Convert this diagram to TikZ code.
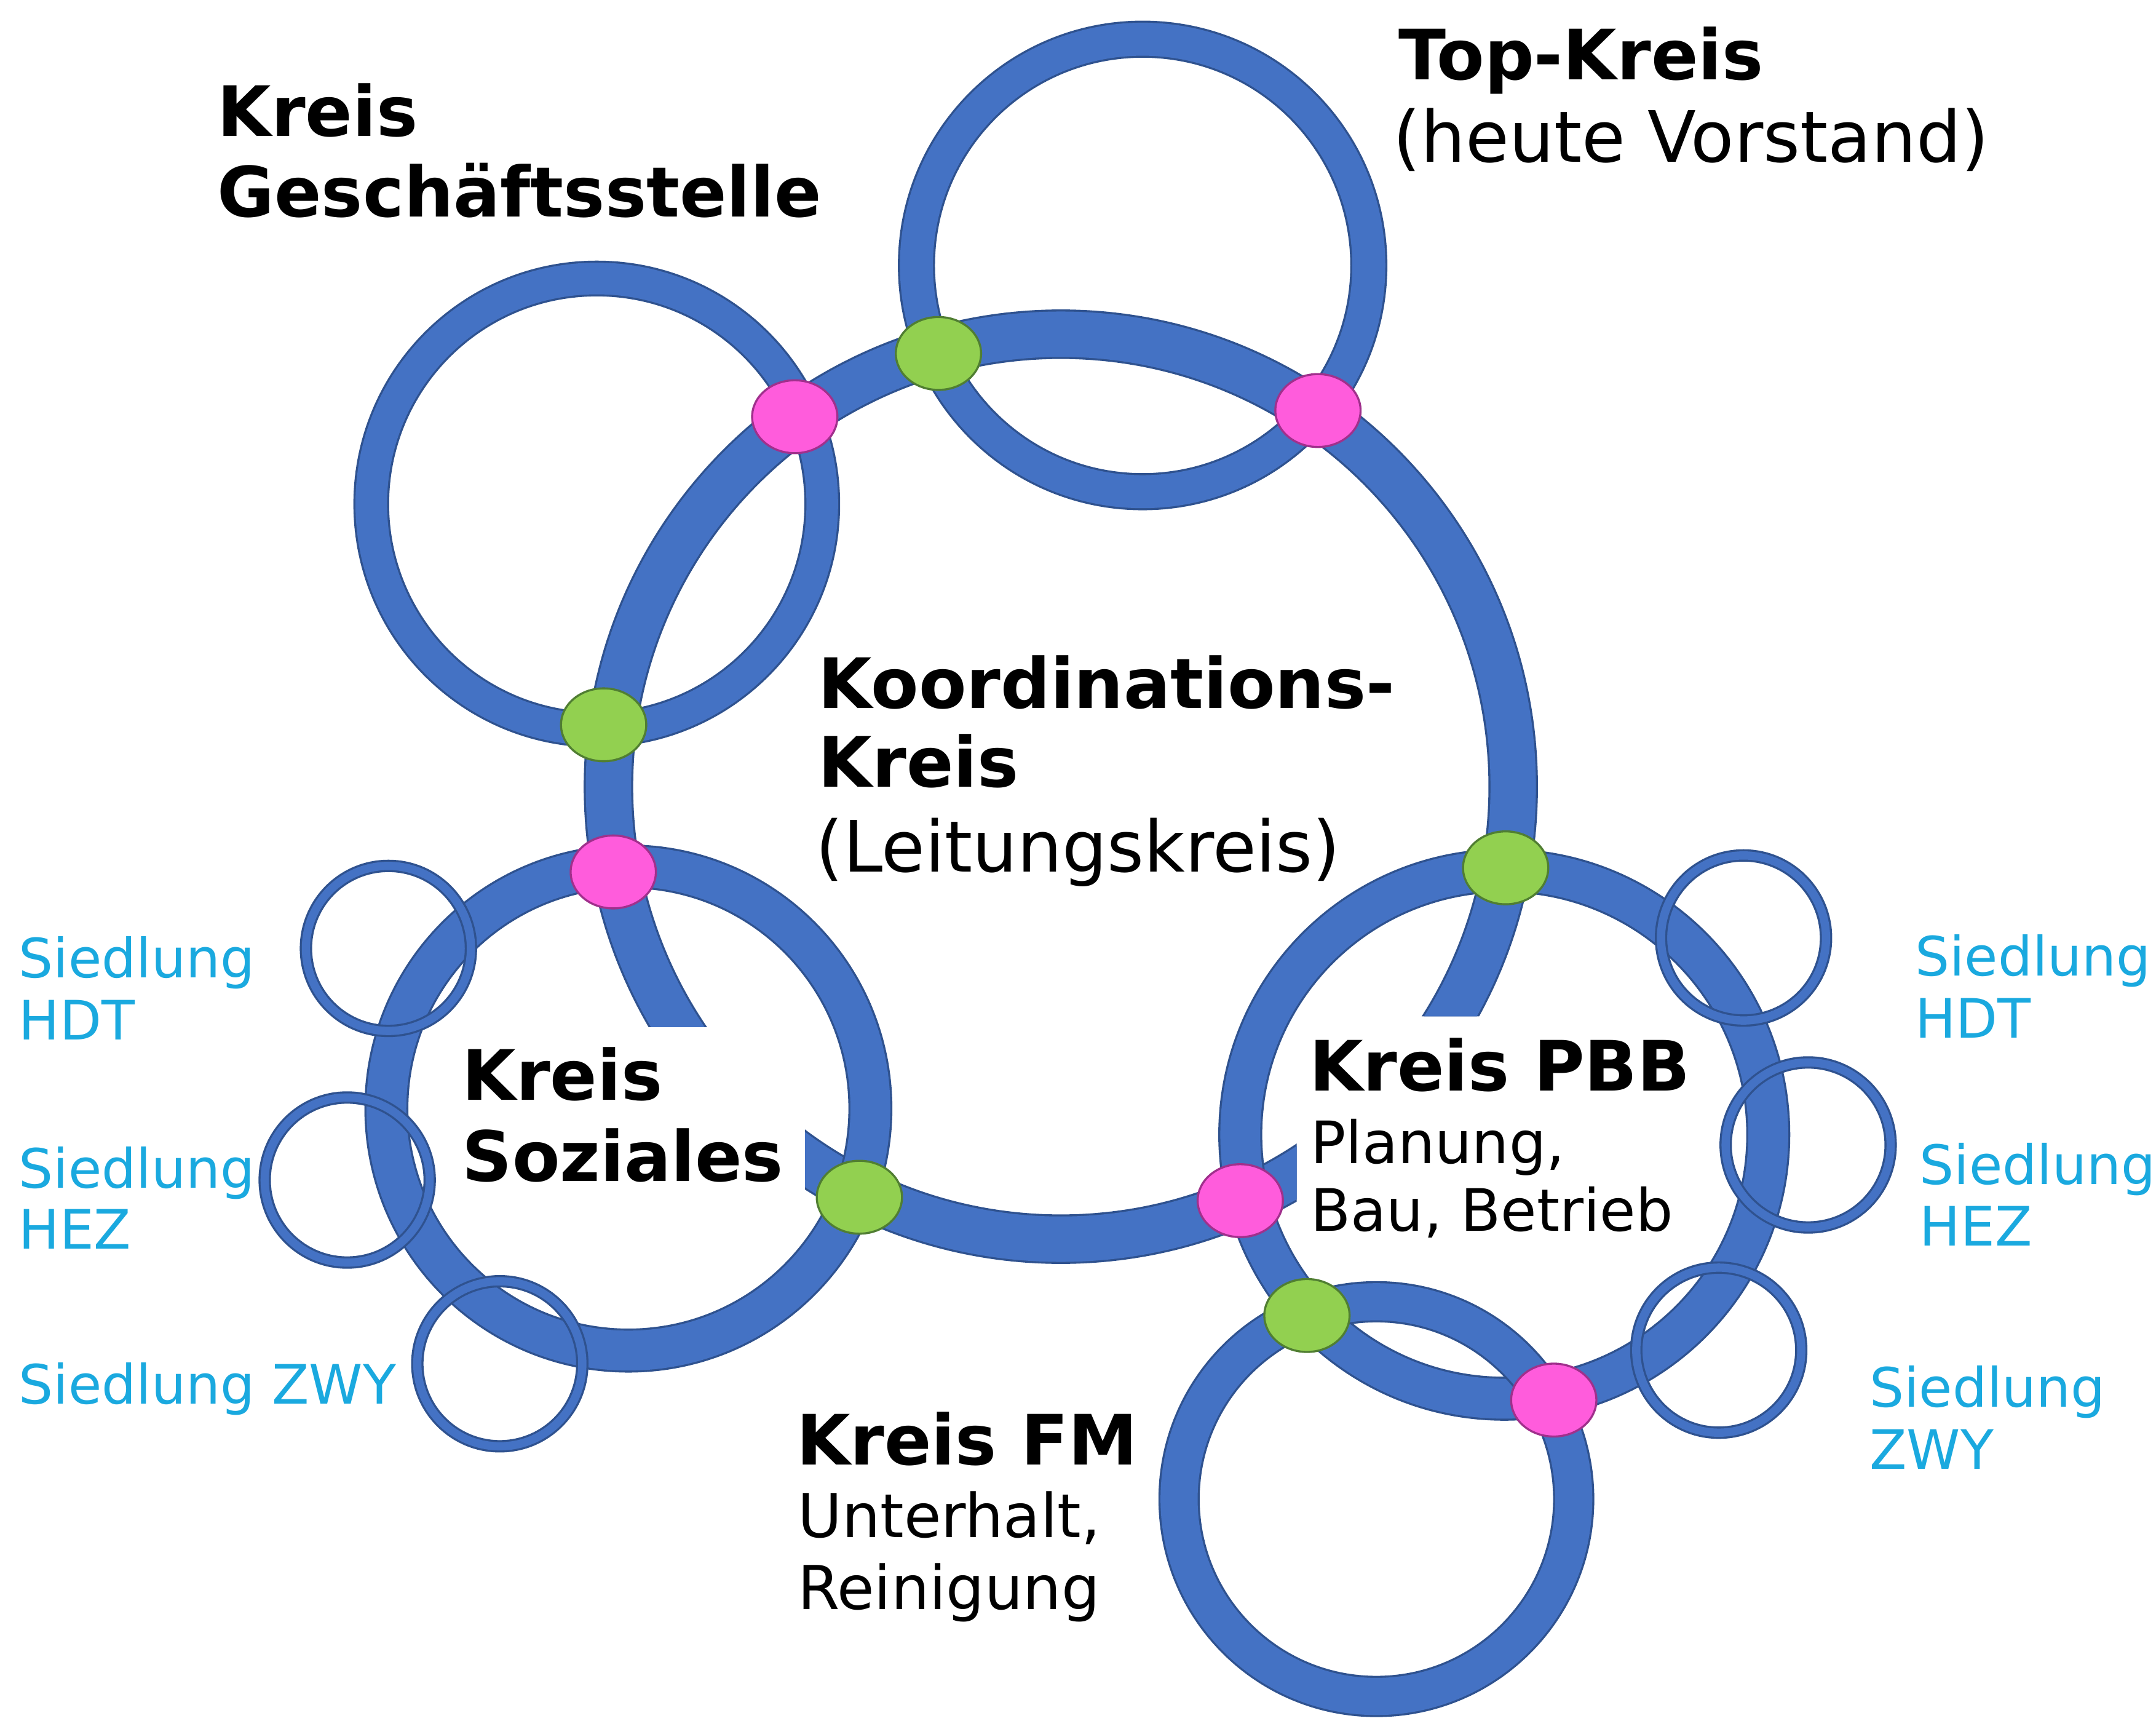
\documentclass[tikz,border=0pt]{standalone}
\usepackage{fontspec}
\setmainfont{DejaVu Sans}
\usetikzlibrary{shapes.geometric}
\definecolor{ringblue}{HTML}{4472C4}
\definecolor{ringedge}{HTML}{2F528F}
\definecolor{dotgreen}{HTML}{92D050}
\definecolor{dotgreenedge}{HTML}{507E32}
\definecolor{dotpink}{HTML}{FF5CDC}
\definecolor{dotpinkedge}{HTML}{A0308C}
\definecolor{sied}{HTML}{1AA9DF}
\begin{document}
\begin{tikzpicture}[x=1pt,y=-1pt,
  edgering/.style={draw=ringedge},
  fillring/.style={draw=ringblue},
  dotbase/.style={ellipse,line width=1.5pt,minimum width=62pt,minimum height=53pt,inner sep=0pt},
  dotg/.style={dotbase,fill=dotgreen,draw=dotgreenedge},
  dotp/.style={dotbase,fill=dotpink,draw=dotpinkedge},
  lbl/.style={anchor=base west,inner sep=0pt,font=\fontsize{50.5}{57}\selectfont\bfseries},
  lblreg/.style={anchor=base west,inner sep=0pt,font=\fontsize{51.5}{57}\selectfont},
  lblsub/.style={anchor=base west,inner sep=0pt,font=\fontsize{42.5}{50}\selectfont},
  lblsubfm/.style={anchor=base west,inner sep=0pt,font=\fontsize{44}{50}\selectfont},
  lblsied/.style={anchor=base west,inner sep=0pt,text=sied,font=\fontsize{39.5}{45}\selectfont}]
\useasboundingbox[fill=white] (0,0) rectangle (1568,1251);

% Koordinations-Kreis (big ring with two gaps)
\coordinate (ck) at (771.5,572);
\begin{scope}
  \clip (-10,-10) -- (1580,-10) -- (1580,739) -- (943,739) -- (943,1262)
        -- (585.5,1262) -- (585.5,746.8) -- (-10,746.8) -- cycle;
  \draw[edgering,line width=36pt] (ck) circle[radius=329pt];
  \draw[fillring,line width=33pt] (ck) circle[radius=329pt];
\end{scope}

% Top-Kreis
\coordinate (ct) at (831,193);
\draw[edgering,line width=27pt] (ct) circle[radius=164.5pt];
\draw[fillring,line width=24pt] (ct) circle[radius=164.5pt];
% Geschaeftsstelle
\coordinate (cg) at (434,366.5);
\draw[edgering,line width=26pt] (cg) circle[radius=164pt];
\draw[fillring,line width=23pt] (cg) circle[radius=164pt];
% Soziales
\coordinate (cs) at (457,806);
\draw[edgering,line width=32pt] (cs) circle[radius=176pt];
\draw[fillring,line width=29pt] (cs) circle[radius=176pt];
% PBB
\coordinate (cp) at (1094,825);
\draw[edgering,line width=32pt] (cp) circle[radius=192pt];
\draw[fillring,line width=29pt] (cp) circle[radius=192pt];
% FM
\coordinate (cf) at (1001,1090);
\draw[edgering,line width=30pt] (cf) circle[radius=143.5pt];
\draw[fillring,line width=27pt] (cf) circle[radius=143.5pt];

% Siedlungen
\foreach \sx/\sy in {282.5/689.6, 252.5/858, 363.5/991.6, 1268/682, 1315/832.5, 1250/981.7}{
  \draw[edgering,line width=9pt] (\sx,\sy) circle[radius=60pt];
  \draw[fillring,line width=6pt] (\sx,\sy) circle[radius=60pt];
}

% Verbindungspunkte
\node[dotg] (g1) at (682.5,257) {};
\node[dotp] (p1) at (958.5,298.5) {};
\node[dotp] (p2) at (578,303) {};
\node[dotg] (g2) at (439,527) {};
\node[dotp] (p3) at (446,634) {};
\node[dotg] (g3) at (1095,631) {};
\node[dotg] (g4) at (625,870.5) {};
\node[dotp] (p4) at (902,873) {};
\node[dotg] (g5) at (950.5,956.5) {};
\node[dotp] (p5) at (1130,1018) {};

% Texte
\node[lbl] (t1) at (1017,58) {Top-Kreis};
\node[lblreg] (t2) at (1013,118) {(heute Vorstand)};
\node[lbl] (t3) at (158,99) {Kreis};
\node[lbl] (t4) at (158,157.5) {Geschäftsstelle};
\node[lbl] (t5) at (595,515) {Koordinations-};
\node[lbl] (t6) at (595,572) {Kreis};
\node[lblreg] (t7) at (593,634) {(Leitungskreis)};
\node[lbl] (t8) at (336,800) {Kreis};
\node[lbl] (t9) at (336,859) {Soziales};
\node[lbl] (t10) at (952,793) {Kreis PBB};
\node[lblsub] (t11) at (953,846) {Planung,};
\node[lblsub] (t12) at (953,895) {Bau, Betrieb};
\node[lbl] (t13) at (579,1065) {Kreis FM};
\node[lblsubfm] (t14) at (580,1118) {Unterhalt,};
\node[lblsubfm] (t15) at (580,1170) {Reinigung};

\node[lblsied] (s1) at (13.5,711) {Siedlung};
\node[lblsied] (s2) at (13.5,756) {HDT};
\node[lblsied] (s3) at (13.5,864) {Siedlung};
\node[lblsied] (s4) at (13.5,908) {HEZ};
\node[lblsied] (s5) at (13.5,1021) {Siedlung ZWY};
\node[lblsied] (s6) at (1392.5,709.5) {Siedlung};
\node[lblsied] (s7) at (1392.5,754.5) {HDT};
\node[lblsied] (s8) at (1396,861) {Siedlung};
\node[lblsied] (s9) at (1396,906) {HEZ};
\node[lblsied] (s10) at (1359.5,1023) {Siedlung};
\node[lblsied] (s11) at (1359.5,1068) {ZWY};
\end{tikzpicture}
\end{document}
